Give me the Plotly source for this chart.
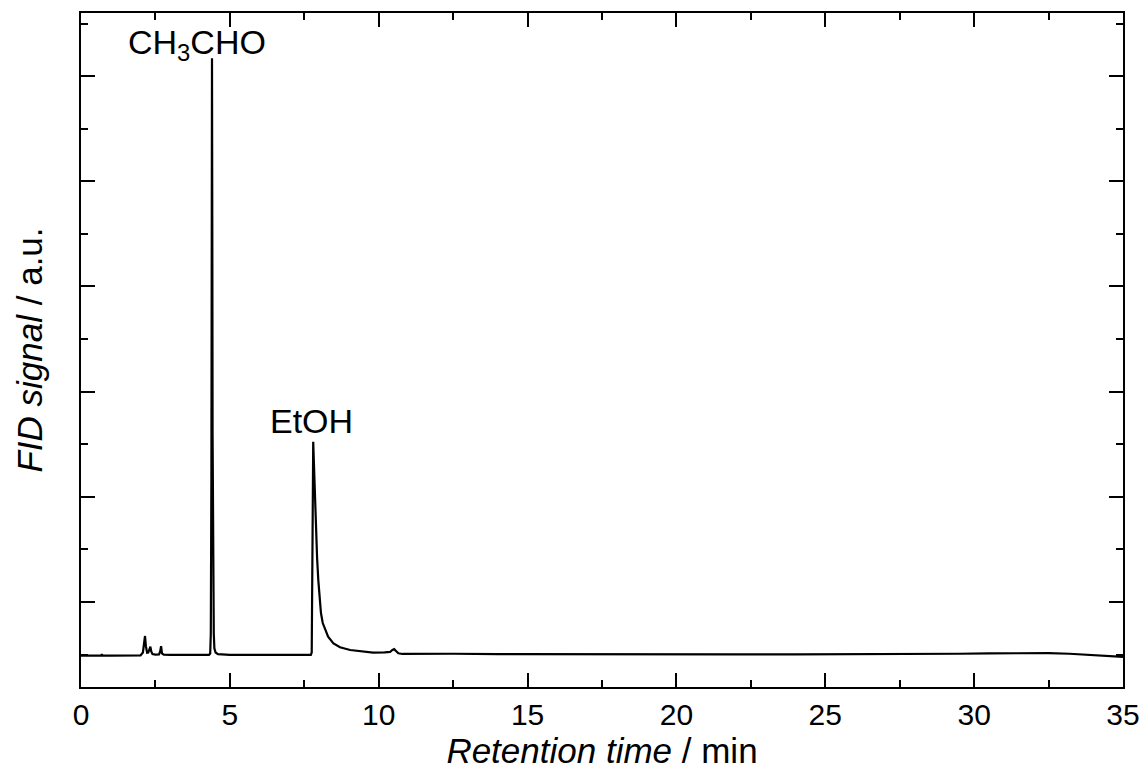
import plotly.graph_objects as go

# Chromatogram trace: retention time (min) and FID signal (a.u.)
retention_time = [
    0.00, 0.50, 0.68, 0.70, 0.72, 1.00, 1.50, 2.00, 2.08, 2.12, 2.15, 2.18, 2.22,
    2.26, 2.30, 2.33, 2.36, 2.40, 2.50, 2.62, 2.66, 2.69, 2.72, 2.78, 3.00, 3.50,
    4.00, 4.30, 4.34, 4.36, 4.38, 4.39, 4.40, 4.41, 4.42, 4.44, 4.46, 4.48, 4.52,
    4.60, 5.00, 5.50, 6.00, 6.50, 7.00, 7.50, 7.72, 7.75, 7.77, 7.79, 7.80, 7.82,
    7.85, 7.89, 7.93, 7.97, 8.01, 8.06, 8.12, 8.20, 8.30, 8.48, 8.70, 9.04, 9.40,
    9.81, 10.20, 10.38, 10.46, 10.52, 10.58, 10.66, 10.80, 11.50, 12.50, 14.00,
    16.00, 18.00, 20.00, 22.00, 24.00, 26.00, 28.00, 29.50, 30.50, 31.50, 32.50,
    33.20, 34.00, 34.50, 35.00,
]
fid_signal = [
    0.490, 0.490, 0.490, 0.505, 0.490, 0.490, 0.490, 0.492, 0.520, 0.600, 0.677,
    0.580, 0.518, 0.520, 0.560, 0.575, 0.530, 0.505, 0.500, 0.502, 0.530, 0.580,
    0.512, 0.500, 0.498, 0.497, 0.497, 0.497, 0.510, 0.700, 2.200, 4.300, 6.170,
    4.600, 2.600, 1.100, 0.700, 0.560, 0.520, 0.505, 0.498, 0.497, 0.497, 0.497,
    0.497, 0.497, 0.498, 0.520, 1.400, 2.300, 2.524, 2.350, 2.050, 1.680, 1.420,
    1.210, 1.040, 0.895, 0.800, 0.734, 0.670, 0.607, 0.570, 0.544, 0.530, 0.518,
    0.522, 0.525, 0.545, 0.552, 0.535, 0.512, 0.506, 0.508, 0.508, 0.505, 0.503,
    0.502, 0.502, 0.503, 0.503, 0.503, 0.505, 0.508, 0.512, 0.516, 0.514, 0.508,
    0.492, 0.484, 0.478,
]

# Peak labels: (text, retention time, signal level of the label)
peak_labels = [
    ("CH<sub>3</sub>CHO", 3.90, 6.30),
    ("EtOH", 7.75, 2.72),
]

x_ticks = [0, 5, 10, 15, 20, 25, 30, 35]

FONT = "Liberation Sans, Arial, sans-serif"

fig = go.Figure()
fig.add_trace(go.Scatter(
    x=retention_time, y=fid_signal, mode="lines",
    line=dict(color="black", width=2.2), showlegend=False,
))

for text, t, s in peak_labels:
    fig.add_annotation(
        x=t, y=s, xref="x", yref="y", text=text, showarrow=False,
        xanchor="center", yanchor="middle",
        font=dict(family=FONT, size=34, color="black"),
    )

axis_common = dict(
    showline=True, linecolor="black", linewidth=2, mirror="ticks",
    ticks="inside", tickcolor="black", tickwidth=2, ticklen=14,
    showgrid=False, zeroline=False,
)

fig.update_xaxes(
    range=[0, 35], tickvals=x_ticks, ticktext=[str(v) for v in x_ticks],
    tickfont=dict(family=FONT, size=30, color="black"),
    minor=dict(ticks="inside", ticklen=7, tickwidth=2, tickcolor="black", dtick=2.5, tick0=0),
    title=dict(text="<i>Retention time</i> / min", font=dict(family=FONT, size=35, color="black"), standoff=0),
    **axis_common,
)
fig.update_yaxes(
    range=[0.192, 6.60], tick0=0, dtick=1, showticklabels=False,
    minor=dict(ticks="inside", ticklen=7, tickwidth=2, tickcolor="black", dtick=0.5, tick0=0),
    title=dict(text="<i>FID signal</i> / a.u.", font=dict(family=FONT, size=35, color="black"), standoff=26),
    **axis_common,
)

fig.update_layout(
    width=1143, height=772,
    margin=dict(l=81, r=20, t=13, b=85, autoexpand=False),
    paper_bgcolor="white", plot_bgcolor="white",
    font=dict(family=FONT, color="black"),
)

fig.write_html("out.html")
